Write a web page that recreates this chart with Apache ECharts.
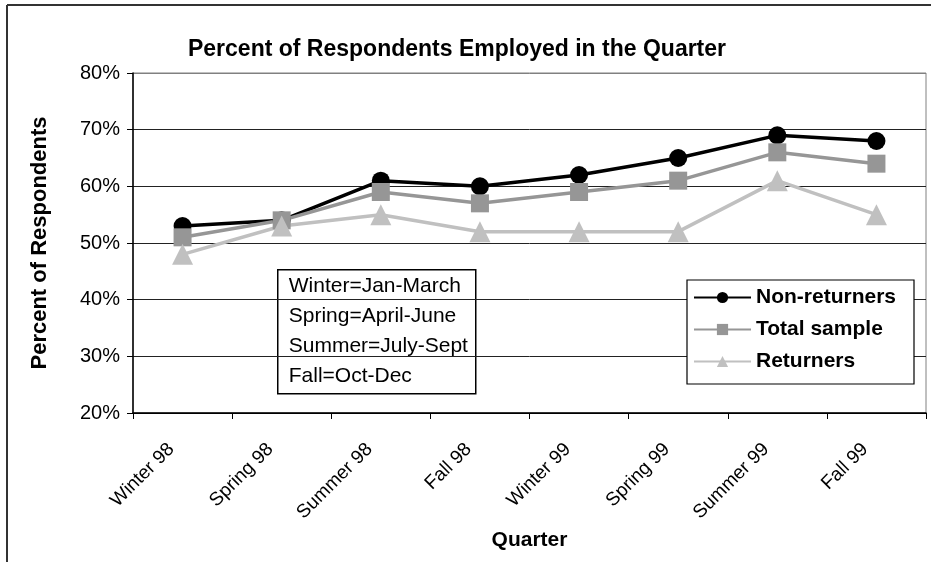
<!DOCTYPE html>
<html>
<head>
<meta charset="utf-8">
<script src="https://cdn.jsdelivr.net/npm/echarts@6/dist/echarts.min.js"></script>
<style>
  html, body { margin: 0; padding: 0; background: #fff; }
  #chart { width: 931px; height: 562px; }
</style>
</head>
<body>
<div id="chart"></div>
<script>
// quarters on the x axis
const quarters = ["Winter 98", "Spring 98", "Summer 98", "Fall 98", "Winter 99", "Spring 99", "Summer 99", "Fall 99"];
// percent employed per quarter
const nonReturners = [53, 54, 61, 60, 62, 65, 69, 68];
const totalSample = [51, 54, 59, 57, 59, 61, 66, 64];
const returners = [48, 53, 55, 52, 52, 52, 61, 55];
const seasonNotes = ["Winter=Jan-March", "Spring=April-June", "Summer=July-Sept", "Fall=Oct-Dec"];

const FONT = "Liberation Sans, Arial, sans-serif";

const chart = echarts.init(document.getElementById("chart"), null, { renderer: "canvas" });

function makeSeries(name, data, color, symbol, size) {
  return {
    name: name,
    type: "line",
    data: data,
    symbol: symbol,
    symbolSize: size,
    showAllSymbol: true,
    lineStyle: { color: color, width: 3.5 },
    itemStyle: { color: color },
    emphasis: { disabled: true },
    animation: false
  };
}

const option = {
  backgroundColor: "#fff",
  title: {
    text: "Percent of Respondents Employed in the Quarter",
    left: 452,
    top: 33,
    textAlign: "center",
    textStyle: { fontFamily: FONT, fontWeight: "bold", fontSize: 23, color: "#000" }
  },
  grid: {
    left: 133, right: 5, top: 73, bottom: 149,
    show: true, borderColor: "#808080", borderWidth: 1, backgroundColor: "#fff"
  },
  legend: {
    orient: "vertical",
    left: 693,
    top: 287,
    padding: 0,
    itemWidth: 57,
    itemHeight: 14,
    itemGap: 11,
    z: 10,
    textStyle: { fontFamily: FONT, fontWeight: "bold", fontSize: 21, color: "#000" },
    data: ["Non-returners", "Total sample", "Returners"]
  },
  xAxis: {
    type: "category",
    data: quarters,
    boundaryGap: true,
    name: "Quarter",
    nameLocation: "middle",
    nameGap: 114,
    nameTextStyle: { fontFamily: FONT, fontWeight: "bold", fontSize: 21, color: "#000" },
    axisLine: { lineStyle: { color: "#000", width: 1.5 } },
    axisTick: { show: true, length: 6, alignWithLabel: false, lineStyle: { color: "#000" } },
    axisLabel: { rotate: 45, margin: 22, padding: [0, 16, 0, 0], fontFamily: FONT, fontSize: 19, color: "#000" }
  },
  yAxis: {
    type: "value",
    min: 20,
    max: 80,
    interval: 10,
    name: "Percent of Respondents",
    nameLocation: "middle",
    nameGap: 82,
    nameTextStyle: { fontFamily: FONT, fontWeight: "bold", fontSize: 22, color: "#000" },
    axisLine: { show: true, lineStyle: { color: "#000", width: 1.5 } },
    axisTick: { show: true, length: 6, lineStyle: { color: "#000" } },
    axisLabel: { margin: 13, fontFamily: FONT, fontSize: 20, color: "#000", formatter: "{value}%" },
    splitLine: { show: true, lineStyle: { color: ["#000", "#222", "#222", "#222", "#222", "#222", "#808080"], width: 1 } }
  },
  graphic: [
    // outer chart frame (top and left edges only)
    { type: "line", shape: { x1: 7, y1: 5, x2: 931, y2: 5 }, style: { stroke: "#333", lineWidth: 2 }, silent: true },
    { type: "line", shape: { x1: 7, y1: 5, x2: 7, y2: 562 }, style: { stroke: "#333", lineWidth: 2 }, silent: true },
    // legend frame
    { type: "rect", z: 5, shape: { x: 687, y: 280, width: 227, height: 104 }, style: { fill: "#fff", stroke: "#000", lineWidth: 1.2 }, silent: true },
    {
      type: "group",
      left: 277,
      top: 269,
      z: 5,
      children: [
        { type: "rect", shape: { x: 0, y: 0, width: 198, height: 124 }, style: { fill: "#fff", stroke: "#000", lineWidth: 1.5 } },
        {
          type: "text",
          x: 11,
          y: 1,
          style: {
            text: seasonNotes.join("\n"),
            fontFamily: FONT,
            fontSize: 21,
            lineHeight: 30,
            fill: "#000"
          }
        }
      ]
    }
  ],
  series: [
    makeSeries("Non-returners", nonReturners, "#000000", "circle", 18),
    makeSeries("Total sample", totalSample, "#969696", "rect", 18),
    makeSeries("Returners", returners, "#c0c0c0", "triangle", 21)
  ],
  animation: false
};

chart.setOption(option);
</script>
</body>
</html>
